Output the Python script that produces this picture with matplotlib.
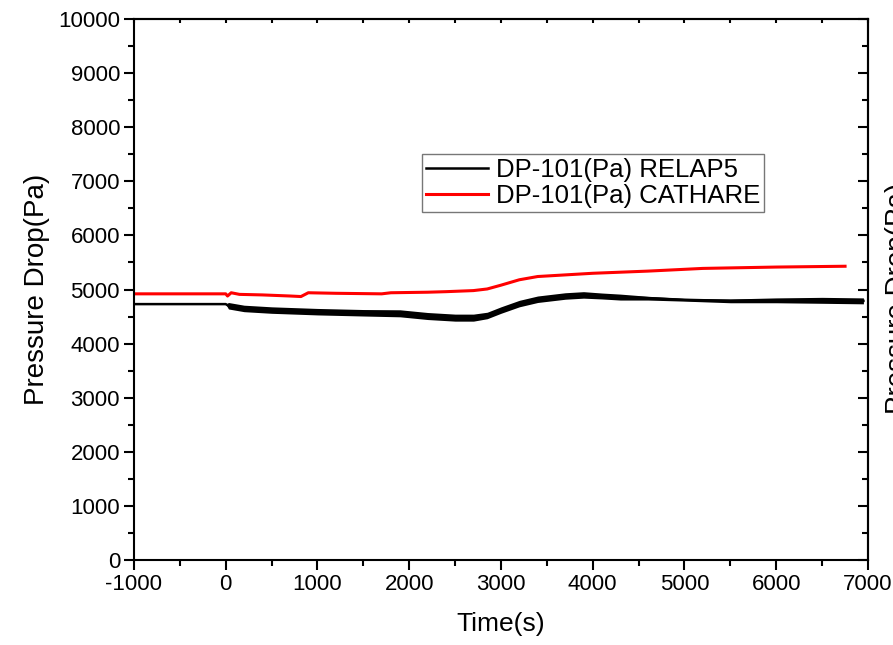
import numpy as np
import matplotlib.pyplot as plt
from matplotlib.ticker import MultipleLocator

plt.rcParams['font.family'] = ['Liberation Sans', 'DejaVu Sans']
plt.rcParams['axes.unicode_minus'] = False

# RELAP5 (black): time, mean value, noise half-width
relap_t = [-1000, 0, 30, 200, 500, 1000, 1500, 1900, 2200, 2500, 2700, 2850,
           3000, 3200, 3400, 3700, 3900, 4100, 4300, 4600, 5000, 5500, 6000,
           6500, 6950]
relap_p = [4730, 4730, 4700, 4650, 4620, 4590, 4570, 4560, 4510, 4480, 4480,
           4520, 4620, 4740, 4820, 4880, 4900, 4880, 4860, 4840, 4810, 4790,
           4800, 4800, 4790]
relap_noise = [0, 0, 60, 60, 60, 60, 60, 65, 65, 65, 65, 60, 60, 60, 60, 60,
               60, 55, 55, 35, 25, 35, 45, 55, 55]

# CATHARE (red)
cath_t = [-1000, 0, 20, 60, 150, 400, 700, 820, 900, 1200, 1700, 1800, 2200,
          2400, 2700, 2850, 3000, 3200, 3400, 3700, 4000, 4600, 5200, 6000,
          6750]
cath_p = [4920, 4920, 4880, 4940, 4910, 4900, 4880, 4870, 4940, 4930, 4920,
          4940, 4950, 4960, 4980, 5010, 5080, 5180, 5240, 5270, 5300, 5340,
          5390, 5415, 5430]

fig = plt.figure(figsize=(8.93, 6.45), dpi=100)
ax = fig.add_axes([0.150, 0.1318, 0.822, 0.8387])

lo = np.array(relap_p) - np.array(relap_noise)
hi = np.array(relap_p) + np.array(relap_noise)
ax.fill_between(relap_t, lo, hi, color='black', linewidth=0)
ax.plot(relap_t, relap_p, color='black', lw=1.8, label='DP-101(Pa) RELAP5')
ax.plot(cath_t, cath_p, color='red', lw=2.2, label='DP-101(Pa) CATHARE')

ax.set_xlim(-1000, 7000)
ax.set_ylim(0, 10000)
ax.xaxis.set_major_locator(MultipleLocator(1000))
ax.xaxis.set_minor_locator(MultipleLocator(500))
ax.yaxis.set_major_locator(MultipleLocator(1000))
ax.yaxis.set_minor_locator(MultipleLocator(500))

for s in ax.spines.values():
    s.set_linewidth(1.5)
ax.tick_params(which='both', direction='out', width=1.5, labelsize=16,
               top=False, right=False, pad=3)
ax.tick_params(which='major', length=7)
ax.tick_params(which='minor', length=4)

# inward ticks on the right and top
sec = ax.secondary_yaxis('right')
sec.yaxis.set_major_locator(MultipleLocator(1000))
sec.yaxis.set_minor_locator(MultipleLocator(500))
sec.tick_params(which='both', direction='in', width=1.5, labelright=False)
sec.tick_params(which='major', length=7)
sec.tick_params(which='minor', length=4)
sec.spines['right'].set_linewidth(1.5)
top = ax.secondary_xaxis('top')
top.xaxis.set_major_locator(MultipleLocator(1000))
top.xaxis.set_minor_locator(MultipleLocator(500))
top.tick_params(which='both', direction='in', width=1.5, length=3, labeltop=False)
top.spines['top'].set_linewidth(1.5)

ax.set_xlabel('Time(s)', fontsize=19, labelpad=12)
ax.set_ylabel('Pressure Drop(Pa)', fontsize=20, labelpad=6)
fig.text(0.991, 0.538, 'Pressure Drop(Pa)', rotation=90, fontsize=20,
         ha='left', va='center')

leg = ax.legend(loc='upper left', bbox_to_anchor=(0.393, 0.7505), fontsize=18.5,
                frameon=True, fancybox=False, handlelength=2.4,
                borderpad=0.15, labelspacing=0.1, handletextpad=0.3,
                borderaxespad=0)
leg.get_frame().set_edgecolor('#555555')
leg.get_frame().set_linewidth(1.0)

fig.savefig('out.png', dpi=100)
